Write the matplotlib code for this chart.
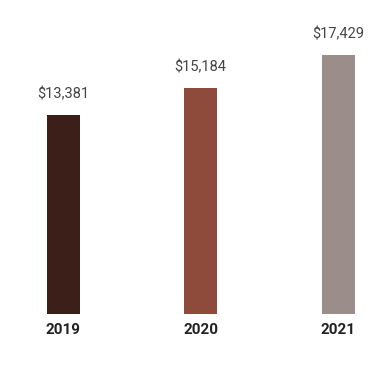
import matplotlib
matplotlib.use("Agg")
import matplotlib.pyplot as plt

years = ["2019", "2020", "2021"]
values = [13381, 15184, 17429]
colors = ["#3c1f18", "#8e4b3b", "#9b8d89"]

plt.rcParams['font.family'] = ['Roboto', 'DejaVu Sans']

fig = plt.figure(figsize=(3.92, 3.70), dpi=100)
ax = fig.add_axes([0, 56 / 370, 1, 314 / 370])

x = list(range(len(years)))
bars = ax.bar(x, values, width=0.24, color=colors)

for xi, v in zip(x, values):
    ax.annotate("${:,}".format(v), (xi, v), xytext=(0, 10), textcoords="offset points",
                ha="center", va="bottom", fontsize=10.5, color="#444444")
    ax.annotate(years[xi], (xi, 0), xytext=(0, -6.5), textcoords="offset points",
                ha="center", va="top", fontsize=11, fontweight="bold", color="#222222")

ax.set_xlim(-63 / 137.5, (392 - 63) / 137.5)
ax.set_ylim(0, 314 / 0.01487)
ax.axis("off")

fig.savefig("out.png", dpi=100)
